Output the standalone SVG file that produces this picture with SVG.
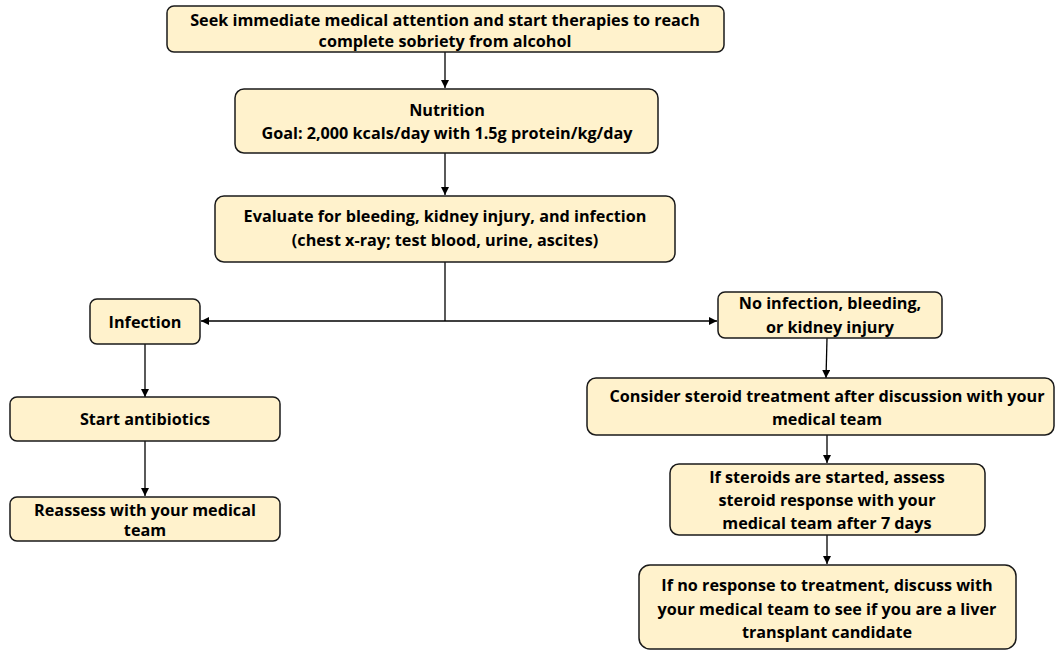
<svg xmlns="http://www.w3.org/2000/svg" width="1055" height="651" viewBox="0 0 1055 651">
<style>
.box{fill:#FFF2CC;stroke:#1a1a1a;stroke-width:1.5}
.t{font-family:"Open Sans","Liberation Sans",Arial,sans-serif;font-weight:bold;font-size:16.2px;fill:#000;text-anchor:middle}
.c{stroke:#000;stroke-width:1.3;fill:none}
</style>
<defs>
<marker id="ah" viewBox="0 0 10 10" refX="10" refY="5" markerWidth="8" markerHeight="8" markerUnits="userSpaceOnUse" orient="auto">
<path d="M0,0 L10,5 L0,10 z" fill="#000"/>
</marker>
</defs>
<rect width="1055" height="651" fill="#fff"/>
<g id="connectors">
<line class="c" x1="445" y1="52" x2="445" y2="88" marker-end="url(#ah)"/>
<line class="c" x1="445" y1="153" x2="445" y2="195" marker-end="url(#ah)"/>
<polyline class="c" points="445,262 445,321"/>
<line class="c" x1="445" y1="321" x2="201" y2="321" marker-end="url(#ah)"/>
<line class="c" x1="445" y1="321" x2="717" y2="321" marker-end="url(#ah)"/>
<line class="c" x1="145" y1="344" x2="145" y2="397" marker-end="url(#ah)"/>
<line class="c" x1="145" y1="441" x2="145" y2="496" marker-end="url(#ah)"/>
<line class="c" x1="827" y1="338" x2="826" y2="378" marker-end="url(#ah)"/>
<line class="c" x1="827" y1="435" x2="827" y2="463" marker-end="url(#ah)"/>
<line class="c" x1="827" y1="535" x2="827" y2="564" marker-end="url(#ah)"/>
</g>
<g id="n1"><rect class="box" x="167" y="6" width="557" height="46" rx="7"/>
<text class="t" x="445" y="26">Seek immediate medical attention and start therapies to reach</text>
<text class="t" x="445" y="47">complete sobriety from alcohol</text></g>
<g id="n2"><rect class="box" x="235" y="89" width="423" height="64" rx="9"/>
<text class="t" x="447" y="116">Nutrition</text>
<text class="t" x="447" y="139">Goal: 2,000 kcals/day with 1.5g protein/kg/day</text></g>
<g id="n3"><rect class="box" x="215" y="196" width="460" height="66" rx="9"/>
<text class="t" x="445" y="222">Evaluate for bleeding, kidney injury, and infection</text>
<text class="t" x="445" y="246">(chest x-ray; test blood, urine, ascites)</text></g>
<g id="n4"><rect class="box" x="90" y="299" width="110" height="45" rx="7"/>
<text class="t" x="145" y="328">Infection</text></g>
<g id="n5"><rect class="box" x="10" y="397" width="270" height="44" rx="7"/>
<text class="t" x="145" y="425">Start antibiotics</text></g>
<g id="n6"><rect class="box" x="10" y="497" width="270" height="44" rx="7"/>
<text class="t" x="145" y="516">Reassess with your medical</text>
<text class="t" x="145" y="536">team</text></g>
<g id="n7"><rect class="box" x="718" y="292" width="224" height="46" rx="7"/>
<text class="t" x="830" y="309">No infection, bleeding,</text>
<text class="t" x="830" y="333">or kidney injury</text></g>
<g id="n8"><rect class="box" x="587" y="378" width="467" height="57" rx="9"/>
<text class="t" x="827" y="402">Consider steroid treatment after discussion with your</text>
<text class="t" x="827" y="425">medical team</text></g>
<g id="n9"><rect class="box" x="670" y="464" width="315" height="71" rx="9"/>
<text class="t" x="827" y="483">If steroids are started, assess</text>
<text class="t" x="827" y="506">steroid response with your</text>
<text class="t" x="827" y="529">medical team after 7 days</text></g>
<g id="n10"><rect class="box" x="639" y="565" width="377" height="84" rx="11"/>
<text class="t" x="827" y="591">If no response to treatment, discuss with</text>
<text class="t" x="827" y="615">your medical team to see if you are a liver</text>
<text class="t" x="827" y="638">transplant candidate</text></g>
</svg>
